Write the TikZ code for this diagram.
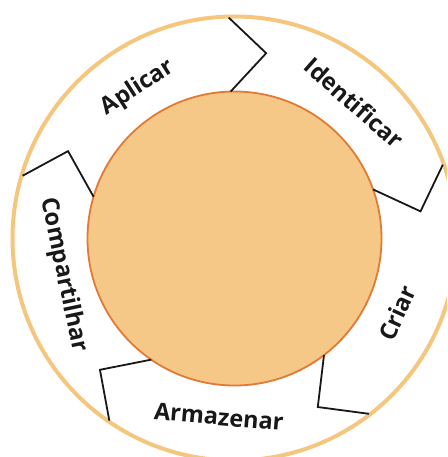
\documentclass[tikz,border=0pt]{standalone}
\usepackage{fontspec}
\setmainfont{Open Sans}
\usetikzlibrary{math}
\definecolor{myring}{RGB}{244,198,126}
\definecolor{mydisk}{RGB}{246,200,136}
\definecolor{myedge}{RGB}{226,122,52}
\definecolor{myink}{RGB}{24,24,24}

\begin{document}
\begin{tikzpicture}[x=1pt,y=1pt,
  steplabel/.style={font=\fontsize{23.5}{25}\selectfont\bfseries, text=myink, inner sep=0pt}]
\tikzmath{
\Ri=147; \Ro=222; \Rv=188; \Rt=179;
}

\useasboundingbox (-234.5,-218.5) rectangle (212.5,238.5);
\clip (-234.5,-218.5) rectangle (212.5,238.5);

\draw[myring, line width=4] (0,0) circle (\Ro);
\node[circle, fill=mydisk, draw=myedge, line width=1.8, minimum size=2*\Ri, inner sep=0pt] (core) at (0,0) {};

% dividers between the steps
\foreach \a in {91.5,19.5,-52.5,-124.5,163.5}{
  \draw[myink, line width=1.8, line join=miter] (\a:\Ri) -- (\a-11.2:\Rv) -- (\a:\Ro-1);
}

\node[steplabel, rotate=32.7] (aplicar) at (122.7:\Rt) {Aplicar};
\node[steplabel, rotate=-41.4] (identificar) at (48.6:181) {Identificar};
\node[steplabel, rotate=65.4] (criar) at (-24.6:\Rt) {Criar};
\node[steplabel, rotate=-5] (armazenar) at (-95:\Rt) {Armazenar};
\node[steplabel, rotate=-78] (compartilhar) at (192:175) {Compartilhar};

\end{tikzpicture}
\end{document}
